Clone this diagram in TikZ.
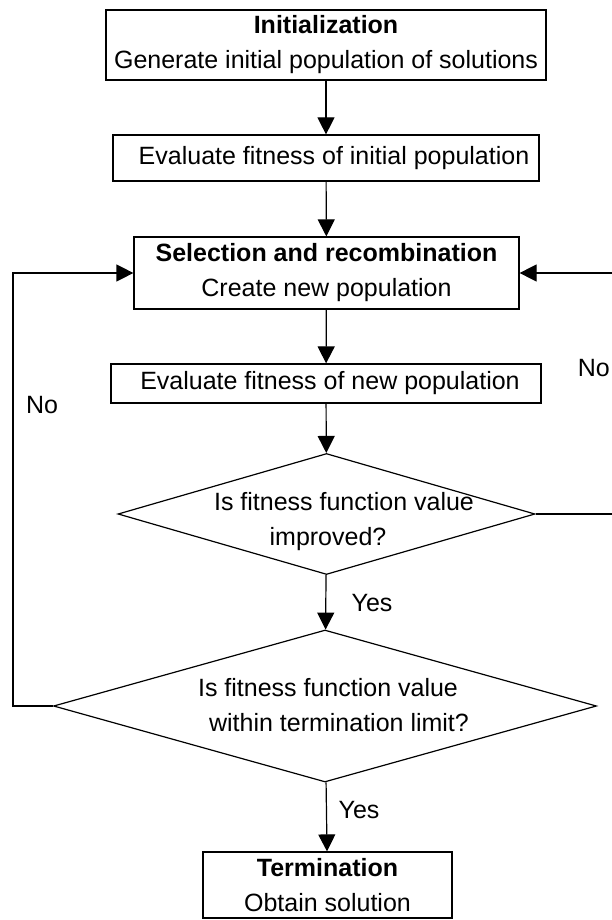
\documentclass[tikz,border=0pt]{standalone}
\usepackage{fontspec}
\setmainfont{Liberation Sans}
\usetikzlibrary{shapes.geometric,arrows.meta}

\tikzset{
  block/.style={draw, line width=1.2pt, inner sep=0pt, align=center,
    font=\fontsize{25}{35}\selectfont},
  decision/.style={draw, diamond, line width=1.2pt, inner sep=0pt},
  txt/.style={inner sep=0pt, align=center, font=\fontsize{25}{35}\selectfont},
  flow/.style={line width=1.2pt, -{Triangle[length=17pt,width=17pt]}}
}

\begin{document}
\begin{tikzpicture}[x=1pt,y=-1pt]
    \useasboundingbox (0,0) rectangle (611,920);% Page as large as the reference

    \node[block, minimum width=440, minimum height=70] (init) at (326,45)
      {\textbf{Initialization}\\Generate initial population of solutions};
    \node[block, minimum width=426, minimum height=46] (evalinit) at (326,158)
      {\hspace*{16pt}Evaluate fitness of initial population};
    \node[block, minimum width=385, minimum height=72] (select) at (326.5,273)
      {\textbf{Selection and recombination}\\Create new population};
    \node[block, minimum width=430, minimum height=39] (evalnew) at (326,383.5)
      {\hspace*{8pt}Evaluate fitness of new population};

    \node[decision, minimum width=417, minimum height=121] (improve) at (326.5,514) {};
    \node[txt] (improvetxt) at (328,522)
      {\hspace*{32pt}Is fitness function value\\improved?};
    \node[decision, minimum width=543, minimum height=152] (limit) at (325,706) {};
    \node[txt] (limittxt) at (328,705)
      {Is fitness function value\\\hspace*{22pt}within termination limit?};

    \node[block, minimum width=249, minimum height=66] (stop) at (327.5,885)
      {\textbf{Termination}\\Obtain solution};

    \coordinate (rloop) at (625,400);% Right return line, runs off the page
    \coordinate (lloop) at (13,500);% Left return line

    \draw[flow] (init) -- (evalinit);
    \draw[flow] (evalinit) -- (select);
    \draw[flow] (select) -- (evalnew);
    \draw[flow] (evalnew) -- (improve);
    \draw[flow] (improve) -- (limit);
    \draw[flow] (limit) -- (stop);
    \draw[flow] (improve.east) -| (rloop) |- (select.east);
    \draw[flow] (limit.west) -| (lloop) |- (select.west);

    \node[txt] (yes1) at (372,603) {Yes};
    \node[txt] (yes2) at (359,810) {Yes};
    \node[txt, anchor=east] (no1) at (610,368) {No};
    \node[txt] (no2) at (42,405) {No};
  \end{tikzpicture}
\end{document}
